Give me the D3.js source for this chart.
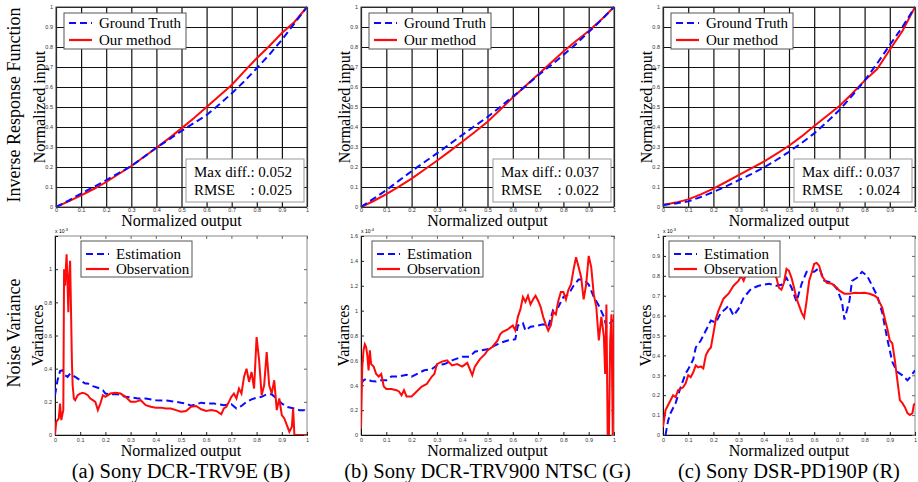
<!DOCTYPE html>
<html>
<head>
<meta charset="utf-8">
<script src="https://cdn.jsdelivr.net/npm/d3@7/dist/d3.min.js"></script>
<style>
  body { margin: 0; background: #fff; }
  svg text { font-family: "Liberation Serif", "Times New Roman", serif; fill: #000; }
  .tick text { font-family: "Liberation Sans", Arial, sans-serif; font-size: 5.5px; fill: #333; }
</style>
</head>
<body>
<div id="container"></div>
<script>
// ---- inverse response function (top row), sampled at irfOutput ----
const irfOutput = [0, 0.05, 0.1, 0.15, 0.2, 0.25, 0.3, 0.35, 0.4, 0.45, 0.5, 0.55, 0.6, 0.65, 0.7, 0.75, 0.8, 0.85, 0.9, 0.95, 1];
const truthA  = [0, 0.032, 0.067, 0.1, 0.134, 0.17, 0.205, 0.25, 0.296, 0.338, 0.38, 0.42, 0.46, 0.512, 0.568, 0.628, 0.694, 0.762, 0.836, 0.918, 1];
const methodA = [0, 0.028, 0.058, 0.09, 0.125, 0.165, 0.205, 0.25, 0.296, 0.343, 0.393, 0.445, 0.5, 0.555, 0.61, 0.678, 0.744, 0.805, 0.87, 0.925, 1];
const truthB  = [0, 0.042, 0.084, 0.132, 0.179, 0.224, 0.268, 0.314, 0.36, 0.405, 0.45, 0.5, 0.552, 0.604, 0.658, 0.708, 0.76, 0.815, 0.875, 0.935, 1];
const methodB = [0, 0.03, 0.064, 0.102, 0.142, 0.186, 0.231, 0.278, 0.326, 0.375, 0.426, 0.486, 0.548, 0.605, 0.663, 0.72, 0.778, 0.83, 0.88, 0.937, 1];
const truthC  = [0.01, 0.018, 0.028, 0.05, 0.075, 0.103, 0.134, 0.164, 0.197, 0.235, 0.276, 0.32, 0.368, 0.424, 0.485, 0.556, 0.632, 0.718, 0.81, 0.9, 1];
const methodC = [0.01, 0.022, 0.038, 0.063, 0.092, 0.125, 0.159, 0.193, 0.227, 0.266, 0.306, 0.353, 0.405, 0.455, 0.505, 0.566, 0.632, 0.69, 0.786, 0.88, 1];
const maxDiff = ['0.052', '0.037', '0.037'];
const rmse    = ['0.025', '0.022', '0.024'];

// ---- noise variance (bottom row) ----
const estAx = [0, 0.01, 0.02, 0.03, 0.04, 0.05, 0.06, 0.07, 0.08, 0.1, 0.12, 0.13, 0.15, 0.17, 0.19, 0.2, 0.22, 0.25, 0.28, 0.3, 0.33, 0.36, 0.4, 0.45, 0.5, 0.52, 0.54, 0.56, 0.58, 0.6, 0.63, 0.65, 0.67, 0.7, 0.72, 0.74, 0.76, 0.78, 0.8, 0.82, 0.84, 0.86, 0.88, 0.9, 0.92, 0.95, 0.97, 0.99, 1];
const estAy = [0.24, 0.33, 0.385, 0.39, 0.36, 0.35, 0.37, 0.36, 0.35, 0.33, 0.31, 0.31, 0.295, 0.285, 0.27, 0.25, 0.245, 0.245, 0.23, 0.227, 0.22, 0.22, 0.21, 0.207, 0.195, 0.19, 0.177, 0.185, 0.195, 0.19, 0.19, 0.185, 0.18, 0.185, 0.16, 0.175, 0.2, 0.215, 0.225, 0.23, 0.245, 0.245, 0.22, 0.19, 0.17, 0.16, 0.15, 0.15, 0.137];
const obsAx = [0, 0.005, 0.01, 0.015, 0.02, 0.025, 0.03, 0.033, 0.036, 0.04, 0.043, 0.046, 0.05, 0.053, 0.056, 0.06, 0.063, 0.067, 0.07, 0.075, 0.08, 0.09, 0.1, 0.11, 0.12, 0.13, 0.14, 0.15, 0.16, 0.17, 0.18, 0.19, 0.2, 0.22, 0.24, 0.26, 0.28, 0.3, 0.32, 0.34, 0.36, 0.38, 0.4, 0.42, 0.44, 0.46, 0.48, 0.5, 0.52, 0.54, 0.56, 0.58, 0.6, 0.62, 0.64, 0.66, 0.67, 0.68, 0.69, 0.7, 0.71, 0.72, 0.73, 0.74, 0.75, 0.76, 0.77, 0.78, 0.79, 0.8, 0.81, 0.82, 0.83, 0.84, 0.85, 0.86, 0.87, 0.88, 0.89, 0.9, 0.91, 0.92, 0.93, 0.94, 0.945, 0.95, 0.96, 1];
const obsAy = [0, 0.08, 0.09, 0.1, 0.19, 0.09, 0.13, 0.15, 1.0, 0.9, 1.0, 1.09, 0.9, 0.74, 0.95, 1.05, 0.8, 0.45, 0.3, 0.22, 0.21, 0.24, 0.25, 0.255, 0.25, 0.24, 0.22, 0.21, 0.2, 0.15, 0.19, 0.24, 0.23, 0.25, 0.255, 0.25, 0.23, 0.2, 0.2, 0.21, 0.18, 0.17, 0.165, 0.165, 0.16, 0.16, 0.15, 0.14, 0.145, 0.17, 0.175, 0.155, 0.145, 0.15, 0.145, 0.125, 0.16, 0.17, 0.2, 0.23, 0.25, 0.22, 0.28, 0.25, 0.35, 0.4, 0.32, 0.38, 0.28, 0.59, 0.45, 0.24, 0.3, 0.5, 0.3, 0.25, 0.33, 0.15, 0.22, 0.12, 0.1, 0.06, 0.02, 0.05, 0.16, 0, 0, 0];

const estBx = [0, 0.01, 0.02, 0.04, 0.06, 0.08, 0.1, 0.12, 0.15, 0.18, 0.2, 0.22, 0.25, 0.28, 0.3, 0.33, 0.36, 0.4, 0.43, 0.45, 0.5, 0.53, 0.55, 0.58, 0.61, 0.62, 0.64, 0.65, 0.67, 0.7, 0.72, 0.74, 0.76, 0.78, 0.8, 0.82, 0.84, 0.86, 0.88, 0.9, 0.92, 0.94, 0.96, 0.97, 0.98, 1];
const estBy = [0.41, 0.44, 0.45, 0.435, 0.43, 0.44, 0.44, 0.47, 0.47, 0.485, 0.47, 0.49, 0.52, 0.53, 0.56, 0.57, 0.6, 0.63, 0.63, 0.67, 0.69, 0.72, 0.74, 0.76, 0.77, 0.88, 0.9, 0.84, 0.87, 0.88, 0.89, 0.87, 1.01, 1.03, 1.11, 1.13, 1.2, 1.25, 1.25, 1.21, 1.11, 1.04, 0.95, 0.87, 0.89, 0.93];
const obsBx = [0, 0.005, 0.01, 0.015, 0.02, 0.025, 0.03, 0.035, 0.04, 0.05, 0.06, 0.07, 0.08, 0.09, 0.1, 0.12, 0.14, 0.15, 0.16, 0.17, 0.18, 0.2, 0.22, 0.24, 0.26, 0.28, 0.29, 0.3, 0.32, 0.34, 0.36, 0.38, 0.4, 0.42, 0.43, 0.44, 0.45, 0.47, 0.49, 0.5, 0.52, 0.54, 0.55, 0.56, 0.58, 0.6, 0.61, 0.62, 0.63, 0.64, 0.65, 0.66, 0.67, 0.68, 0.69, 0.7, 0.71, 0.72, 0.73, 0.74, 0.75, 0.76, 0.77, 0.78, 0.79, 0.8, 0.81, 0.82, 0.83, 0.84, 0.85, 0.86, 0.87, 0.88, 0.89, 0.9, 0.91, 0.92, 0.93, 0.94, 0.95, 0.96, 0.965, 0.97, 0.975, 0.98, 0.985, 0.99, 0.995, 1];
const obsBy = [0.05, 0.55, 0.68, 0.73, 0.71, 0.64, 0.52, 0.68, 0.57, 0.55, 0.49, 0.47, 0.49, 0.39, 0.37, 0.37, 0.36, 0.35, 0.32, 0.36, 0.31, 0.31, 0.35, 0.39, 0.41, 0.47, 0.49, 0.57, 0.59, 0.6, 0.56, 0.57, 0.55, 0.58, 0.53, 0.48, 0.55, 0.61, 0.65, 0.68, 0.71, 0.76, 0.81, 0.83, 0.85, 0.88, 0.84, 0.95, 1.01, 1.11, 1.07, 1.12, 1.05, 1.09, 1.12, 1.08, 1.03, 0.95, 0.89, 0.84, 0.88, 0.99, 0.97, 1.08, 1.15, 1.15, 1.09, 1.17, 1.21, 1.33, 1.43, 1.35, 1.27, 1.09, 1.21, 1.44, 1.35, 1.13, 1.03, 0.76, 0.95, 0.79, 0.49, 1.05, 0, 0, 0.76, 0.97, 0, 0.97];

const estCx = [0.01, 0.02, 0.03, 0.05, 0.07, 0.09, 0.1, 0.12, 0.13, 0.15, 0.17, 0.19, 0.21, 0.23, 0.25, 0.26, 0.28, 0.3, 0.32, 0.35, 0.38, 0.42, 0.45, 0.47, 0.49, 0.51, 0.53, 0.55, 0.57, 0.6, 0.62, 0.64, 0.67, 0.69, 0.71, 0.72, 0.74, 0.75, 0.77, 0.79, 0.81, 0.83, 0.85, 0.87, 0.89, 0.91, 0.93, 0.95, 0.97, 0.98, 1];
const estCy = [0, 0.07, 0.11, 0.16, 0.24, 0.31, 0.33, 0.38, 0.44, 0.475, 0.525, 0.575, 0.565, 0.615, 0.635, 0.65, 0.6, 0.635, 0.69, 0.735, 0.75, 0.76, 0.75, 0.755, 0.79, 0.74, 0.67, 0.76, 0.82, 0.82, 0.84, 0.775, 0.765, 0.735, 0.67, 0.58, 0.675, 0.775, 0.79, 0.82, 0.8, 0.75, 0.7, 0.615, 0.483, 0.367, 0.317, 0.3, 0.275, 0.29, 0.325];
const obsCx = [0, 0.01, 0.03, 0.04, 0.05, 0.06, 0.08, 0.09, 0.1, 0.11, 0.12, 0.13, 0.14, 0.15, 0.16, 0.17, 0.18, 0.19, 0.2, 0.21, 0.22, 0.24, 0.26, 0.28, 0.3, 0.31, 0.32, 0.33, 0.35, 0.38, 0.4, 0.43, 0.45, 0.46, 0.47, 0.48, 0.49, 0.5, 0.51, 0.52, 0.53, 0.54, 0.55, 0.56, 0.57, 0.58, 0.59, 0.6, 0.61, 0.62, 0.63, 0.65, 0.67, 0.69, 0.7, 0.72, 0.74, 0.76, 0.78, 0.8, 0.82, 0.84, 0.85, 0.86, 0.87, 0.88, 0.89, 0.9, 0.91, 0.92, 0.93, 0.94, 0.95, 0.96, 0.97, 0.98, 0.99, 0.995, 1];
const obsCy = [0.04, 0.125, 0.175, 0.2, 0.19, 0.225, 0.24, 0.26, 0.3, 0.29, 0.315, 0.35, 0.34, 0.345, 0.335, 0.4, 0.425, 0.44, 0.51, 0.585, 0.625, 0.685, 0.71, 0.75, 0.775, 0.8, 0.775, 0.81, 0.825, 0.84, 0.83, 0.825, 0.79, 0.74, 0.73, 0.765, 0.835, 0.825, 0.79, 0.74, 0.685, 0.65, 0.615, 0.59, 0.675, 0.775, 0.815, 0.86, 0.865, 0.85, 0.8, 0.765, 0.76, 0.74, 0.725, 0.71, 0.71, 0.715, 0.713, 0.715, 0.71, 0.7, 0.69, 0.665, 0.64, 0.585, 0.535, 0.475, 0.46, 0.375, 0.275, 0.175, 0.16, 0.14, 0.11, 0.1, 0.11, 0.15, 0.16];

// ---- ticks and labels ----
const unitTicks = [0, 0.1, 0.2, 0.3, 0.4, 0.5, 0.6, 0.7, 0.8, 0.9, 1];
const unitTickLabels = ['0', '0.1', '0.2', '0.3', '0.4', '0.5', '0.6', '0.7', '0.8', '0.9', '1'];
const varTicksA = [0, 0.2, 0.4, 0.6, 0.8, 1];
const varTicksB = [0, 0.2, 0.4, 0.6, 0.8, 1, 1.2, 1.4, 1.6];
const varTicksC = [0, 0.1, 0.2, 0.3, 0.4, 0.5, 0.6, 0.7, 0.8, 0.9, 1];
const varMax = [1.2, 1.6, 1];
const varExponent = ['-3', '-4', '-3'];
const captions = ['(a) Sony DCR-TRV9E (B)', '(b) Sony DCR-TRV900 NTSC (G)', '(c) Sony DSR-PD190P (R)'];

const W = 918, H = 482;
const BLUE = '#0a0aff', RED = '#ff0a0a';
const topRow = { top: 7, bottom: 207 };
const botRow = { top: 236, bottom: 435 };
const cols = [
  { left: 56, right: 307 },
  { left: 361, right: 614 },
  { left: 663, right: 915 }
];

const svg = d3.select('#container').append('svg')
  .attr('width', W).attr('height', H);

const fmt = v => d3.format('~g')(v);

function legend(g, x0, y0, w, h, rows, rowY) {
  g.append('rect').attr('x', x0).attr('y', y0).attr('width', w).attr('height', h)
    .attr('fill', '#fff').attr('stroke', '#555').attr('stroke-width', 1);
  rows.forEach((r, i) => {
    const cy = y0 + rowY[i];
    g.append('line').attr('x1', x0 + 5).attr('x2', x0 + 28).attr('y1', cy).attr('y2', cy)
      .attr('stroke', r.color).attr('stroke-width', 2.2)
      .attr('stroke-dasharray', r.dash ? '7,4' : null);
    g.append('text').attr('x', x0 + 35).attr('y', cy + 5).attr('font-size', '15px').text(r.label);
  });
}

// top row: inverse response function
const topSeries = [[truthA, methodA], [truthB, methodB], [truthC, methodC]];
topSeries.forEach(([truth, method], i) => {
  const c = cols[i];
  const x = d3.scaleLinear().domain([0, 1]).range([c.left, c.right]);
  const y = d3.scaleLinear().domain([0, 1]).range([topRow.bottom, topRow.top]);
  const g = svg.append('g');
  const h = topRow.bottom - topRow.top, w = c.right - c.left;

  const gx = g.append('g').attr('transform', `translate(0,${topRow.bottom})`)
    .call(d3.axisBottom(x).tickValues(unitTicks).tickFormat((d, k) => unitTickLabels[k]).tickSize(-h).tickPadding(1));
  const gy = g.append('g').attr('transform', `translate(${c.left},0)`)
    .call(d3.axisLeft(y).tickValues(unitTicks).tickFormat((d, k) => unitTickLabels[k]).tickSize(-w).tickPadding(3));
  [gx, gy].forEach(a => {
    a.select('.domain').remove();
    a.selectAll('.tick line').attr('stroke', '#111').attr('stroke-width', 1.2);
  });

  const line = d3.line().x((d, k) => x(irfOutput[k])).y(d => y(d));
  g.append('path').datum(method).attr('d', line)
    .attr('fill', 'none').attr('stroke', RED).attr('stroke-width', 2);
  g.append('path').datum(truth).attr('d', line)
    .attr('fill', 'none').attr('stroke', BLUE).attr('stroke-width', 2).attr('stroke-dasharray', '7,4');

  g.append('rect').attr('x', c.left).attr('y', topRow.top).attr('width', w).attr('height', h)
    .attr('fill', 'none').attr('stroke', '#444').attr('stroke-width', 1);

  legend(g, c.left + 8, topRow.top + 6, 122, 36,
    [{ label: 'Ground Truth', color: BLUE, dash: true }, { label: 'Our method', color: RED }], [10, 27]);

  // stats box, colons aligned
  const bx = c.right - 121, by = 159;
  g.append('rect').attr('x', bx).attr('y', by).attr('width', 118).attr('height', 43)
    .attr('fill', '#fff').attr('stroke', '#999').attr('stroke-width', 1);
  const t1 = g.append('text').attr('x', bx + 8).attr('y', by + 18).attr('font-size', '15px').text('Max diff.');
  const colonX = bx + 8 + t1.node().getComputedTextLength();
  g.append('text').attr('x', colonX).attr('y', by + 18).attr('font-size', '15px').text(': ' + maxDiff[i]);
  g.append('text').attr('x', bx + 8).attr('y', by + 36).attr('font-size', '15px').text('RMSE');
  g.append('text').attr('x', colonX).attr('y', by + 36).attr('font-size', '15px').text(': ' + rmse[i]);

  g.append('text').attr('x', (c.left + c.right) / 2).attr('y', 226)
    .attr('text-anchor', 'middle').attr('font-size', '16px').text('Normalized output');
  g.append('text').attr('transform', `translate(${c.left - 11},${(topRow.top + topRow.bottom) / 2}) rotate(-90)`)
    .attr('text-anchor', 'middle').attr('font-size', '16px').text('Normalized input');
});

// bottom row: noise variance
const botSeries = [
  { ex: estAx, ey: estAy, ox: obsAx, oy: obsAy, ticks: varTicksA, legendDx: 26 },
  { ex: estBx, ey: estBy, ox: obsBx, oy: obsBy, ticks: varTicksB, legendDx: 11 },
  { ex: estCx, ey: estCy, ox: obsCx, oy: obsCy, ticks: varTicksC, legendDx: 6 }
];
botSeries.forEach((s, i) => {
  const c = cols[i];
  const left = i === 0 ? c.left - 1 : c.left;
  const x = d3.scaleLinear().domain([0, 1]).range([left, c.right]);
  const y = d3.scaleLinear().domain([0, varMax[i]]).range([botRow.bottom, botRow.top]);
  const g = svg.append('g');
  const h = botRow.bottom - botRow.top, w = c.right - left;

  const clipId = 'clip' + i;
  svg.append('clipPath').attr('id', clipId).append('rect')
    .attr('x', left).attr('y', botRow.top).attr('width', w).attr('height', h);

  g.append('rect').attr('x', left).attr('y', botRow.top).attr('width', w).attr('height', h)
    .attr('fill', 'none').attr('stroke', '#888').attr('stroke-width', 1);

  const gx = g.append('g').attr('transform', `translate(0,${botRow.bottom})`)
    .call(d3.axisBottom(x).tickValues(unitTicks).tickFormat((d, k) => unitTickLabels[k]).tickSize(-3).tickPadding(3));
  const gxt = g.append('g').attr('transform', `translate(0,${botRow.top})`)
    .call(d3.axisTop(x).tickValues(unitTicks).tickFormat('').tickSize(-3));
  const gy = g.append('g').attr('transform', `translate(${left},0)`)
    .call(d3.axisLeft(y).tickValues(s.ticks).tickFormat(fmt).tickSize(-3).tickPadding(3));
  const gyr = g.append('g').attr('transform', `translate(${c.right},0)`)
    .call(d3.axisRight(y).tickValues(s.ticks).tickFormat('').tickSize(-3));
  [gxt, gyr].forEach(a => { a.select('.domain').remove(); a.selectAll('.tick line').attr('stroke', '#666'); });
  [gx, gy].forEach(a => { a.select('.domain').attr('stroke', '#111'); a.selectAll('.tick line').attr('stroke', '#222'); });

  const plot = g.append('g').attr('clip-path', `url(#${clipId})`);
  const line = d3.line();
  plot.append('path').datum(d3.zip(s.ex, s.ey).map(([a, b]) => [x(a), y(b)])).attr('d', line)
    .attr('fill', 'none').attr('stroke', BLUE).attr('stroke-width', 2).attr('stroke-dasharray', '7,4');
  plot.append('path').datum(d3.zip(s.ox, s.oy).map(([a, b]) => [x(a), y(b)])).attr('d', line)
    .attr('fill', 'none').attr('stroke', RED).attr('stroke-width', 2);

  legend(g, left + s.legendDx, botRow.top + 5, 111, 36,
    [{ label: 'Estimation', color: BLUE, dash: true }, { label: 'Observation', color: RED }], [13, 28]);

  const ex = g.append('text').attr('x', left).attr('y', botRow.top - 3)
    .style('font-family', '"Liberation Sans", Arial, sans-serif').attr('font-size', '5px').attr('fill', '#333');
  ex.append('tspan').text('x 10');
  ex.append('tspan').attr('dy', -2).attr('font-size', '4px').text(varExponent[i]);

  g.append('text').attr('x', (left + c.right) / 2).attr('y', 455.5)
    .attr('text-anchor', 'middle').attr('font-size', '16px').text('Normalized output');
  g.append('text').attr('transform', `translate(${left - 12},${(botRow.top + botRow.bottom) / 2}) rotate(-90)`)
    .attr('text-anchor', 'middle').attr('font-size', '16px').text('Variances');
  g.append('text').attr('x', (left + c.right) / 2).attr('y', 477.5)
    .attr('text-anchor', 'middle').attr('font-size', '20.5px').text(captions[i]);
});

// row titles
svg.append('text').attr('transform', 'translate(20,105) rotate(-90)')
  .attr('text-anchor', 'middle').attr('font-size', '18px').text('Inverse Response Function');
svg.append('text').attr('transform', 'translate(20,333) rotate(-90)')
  .attr('text-anchor', 'middle').attr('font-size', '18px').text('Noise Variance');
</script>
</body>
</html>
